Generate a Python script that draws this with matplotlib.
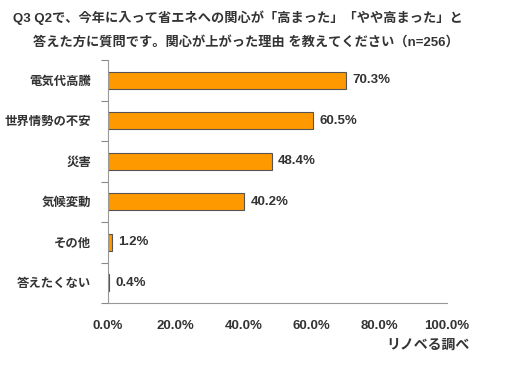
import numpy as np
import matplotlib.pyplot as plt
from matplotlib.ticker import FixedLocator

plt.rcParams['font.family'] = ['Liberation Sans', 'Noto Sans CJK JP', 'DejaVu Sans']

categories = ['電気代高騰', '世界情勢の不安', '災害', '気候変動', 'その他', '答えたくない']
values = [70.3, 60.5, 48.4, 40.2, 1.2, 0.4]
xticks = [0, 20, 40, 60, 80, 100]

TEXT = '#333333'
fig = plt.figure(figsize=(5.25, 3.8), dpi=100)
ax = fig.add_axes([108/525, 1-303/380, (447-108)/525, (303-60)/380])

y = np.arange(len(categories))
ax.barh(y, values, height=0.42, color='#FF9900', edgecolor='#555555', linewidth=0.8)
for yi, v in zip(y, values):
    ax.text(v + 1.8, yi, f'{v:.1f}%', va='center', ha='left', fontsize=9.5,
            fontweight='bold', color=TEXT)

ax.set_xlim(0, 100)
ax.set_ylim(len(categories) - 0.5, -0.5)
ax.set_yticks(y)
ax.set_yticklabels(categories, fontsize=8.9, fontweight='bold', color=TEXT)
ax.yaxis.set_minor_locator(FixedLocator(np.arange(-0.5, len(categories), 1.0)))
ax.tick_params(axis='y', which='major', length=0, pad=12)
ax.tick_params(axis='y', which='minor', length=5, color='#888888', width=0.8)
ax.set_xticks(xticks)
ax.set_xticklabels([f'{t:.1f}%' for t in xticks], fontsize=9.5, fontweight='bold', color=TEXT)
ax.tick_params(axis='x', length=0, pad=12)

for s in ['top', 'right']:
    ax.spines[s].set_visible(False)
for s in ['left', 'bottom']:
    ax.spines[s].set_color('#999999')
    ax.spines[s].set_linewidth(0.8)

fig.text(13/525, 1-18/380, 'Q3 Q2で、今年に入って省エネへの関心が「高まった」「やや高まった」と',
         fontsize=9.5, fontweight='bold', color=TEXT, va='center', ha='left')
fig.text(33/525, 1-42/380, '答えた方に質問です。関心が上がった理由 を教えてください（n=256）',
         fontsize=9.5, fontweight='bold', color=TEXT, va='center', ha='left')
fig.text(470/525, 1-345/380, 'リノベる調べ', fontsize=10, fontweight='bold',
         color=TEXT, va='center', ha='right')

fig.savefig('out.png', dpi=100)
